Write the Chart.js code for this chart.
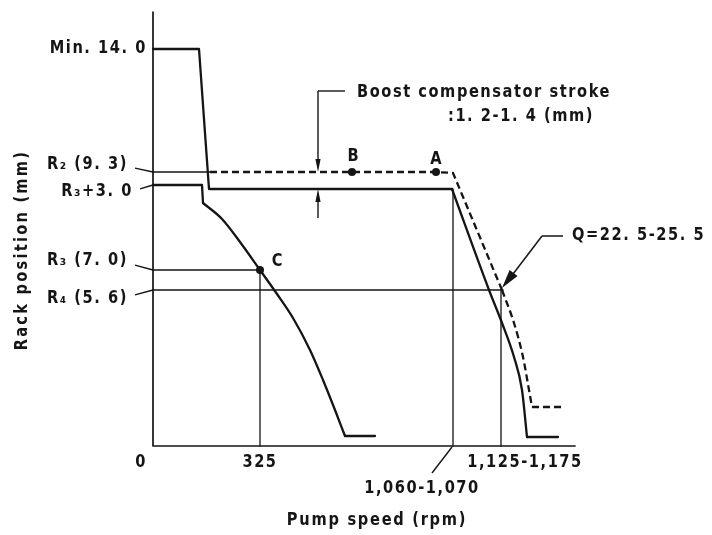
<!DOCTYPE html>
<html>
<head>
<meta charset="utf-8">
<script src="https://cdn.jsdelivr.net/npm/chart.js@4.4.0/dist/chart.umd.min.js"></script>
<style>
  html, body { margin: 0; padding: 0; background: #fff; }
  #wrap { width: 712px; height: 535px; }
</style>
</head>
<body>
<div id="wrap"><canvas id="rack" width="712" height="535"></canvas></div>
<script>
// Rack position vs pump speed - schematic, axes are in drawing units (not to scale)
const xMax = 422;
const yMax = 434;

// speed axis marks and their labels
const speedTicks = [0, 107, 300, 348];
const speedLabels = ["0", "325", "1,060-1,070", "1,125-1,175"];

// rack levels, bottom to top
const rackTicks = [156, 176, 261, 274, 397];
const rackLabels = ["R₄ (5. 6)", "R₃ (7. 0)", "R₃+3. 0", "R₂ (9. 3)", "Min. 14. 0"];

// full load curve (solid)
const fullX = [0, 46, 56, 299, 336, 349, 361, 369, 374, 405];
const fullY = [397, 397, 257, 257, 156, 123, 89, 56, 9, 9];

// boost compensated curve (dashed)
const boostX = [57, 283, 300, 349, 361, 370, 376, 379, 409];
const boostY = [274, 274, 273, 156, 123, 89, 56, 39, 39];

// low speed curve starting at R3+3.0
const lowX = [0, 49, 50, 69, 87, 107, 124, 140, 157, 170, 182, 192, 222];
const lowY = [261, 261, 243, 227, 204, 176, 152, 128, 96, 66, 36, 10, 10];

// marked points
const markNames = ["A", "B", "C"];
const markX = [283, 199, 107];
const markY = [274, 274, 176];

// boost stroke marker position and annotation texts
const boostMarkX = 165;
const boostText = ["Boost compensator stroke", ":1. 2-1. 4 (mm)"];
const qText = "Q=22. 5-25. 5";
const xTitle = "Pump speed (rpm)";
const yTitle = "Rack position (mm)";

const ink = "#151515";
const textFont = "bold 17px 'DejaVu Sans', sans-serif";
const squeeze = 0.86;

function pts(xs, ys, from, to) {
  const out = [];
  for (let i = from || 0; i <= (to == null ? xs.length - 1 : to); i++) {
    out.push({ x: xs[i], y: ys[i] });
  }
  return out;
}

function lineSet(data, width, extra) {
  return Object.assign({
    data: data,
    borderColor: ink,
    backgroundColor: ink,
    borderWidth: width,
    borderCapStyle: "round",
    borderJoinStyle: "round",
    pointRadius: 0,
    tension: 0,
    fill: false,
    clip: false,
    showLine: true
  }, extra || {});
}

// narrow, spaced lettering
function put(ctx, text, x, y, align, spacing) {
  ctx.save();
  ctx.font = textFont;
  ctx.fillStyle = ink;
  ctx.letterSpacing = (spacing == null ? 1.8 : spacing) + "px";
  ctx.textAlign = align || "left";
  ctx.textBaseline = "middle";
  ctx.translate(x, y);
  ctx.scale(squeeze, 1);
  ctx.fillText(text, 0, 0);
  ctx.restore();
}

function seg(ctx, x1, y1, x2, y2, w) {
  ctx.beginPath();
  ctx.lineWidth = w;
  ctx.moveTo(x1, y1);
  ctx.lineTo(x2, y2);
  ctx.stroke();
}

// filled arrow head, tip at (tx, ty), coming from (fx, fy)
function head(ctx, fx, fy, tx, ty, len, half) {
  const a = Math.atan2(ty - fy, tx - fx);
  const bx = tx - Math.cos(a) * len, by = ty - Math.sin(a) * len;
  ctx.beginPath();
  ctx.moveTo(tx, ty);
  ctx.lineTo(bx + Math.sin(a) * half, by - Math.cos(a) * half);
  ctx.lineTo(bx - Math.sin(a) * half, by + Math.cos(a) * half);
  ctx.closePath();
  ctx.fill();
}

// labels, leaders and arrows around the curves
const notes = {
  id: "notes",
  afterDatasetsDraw(chart) {
    const ctx = chart.ctx;
    const sx = chart.scales.x, sy = chart.scales.y;
    const X = v => sx.getPixelForValue(v);
    const Y = v => sy.getPixelForValue(v);
    const ax = X(0), ay = Y(0);
    ctx.save();
    ctx.strokeStyle = ink;
    ctx.fillStyle = ink;

    // rack level labels with short leaders
    const dy = [9, -9, 7, -7, 0];
    const gap = [25, 25, 20, 25, 6];
    rackTicks.forEach((v, i) => {
      const ty = Y(v) + dy[i];
      put(ctx, rackLabels[i], ax - gap[i], ty, "right");
      if (dy[i] !== 0) {
        seg(ctx, ax - gap[i] + 7, ty - dy[i] * 0.45, ax, Y(v), 1.4);
      }
    });

    // speed labels
    put(ctx, speedLabels[0], ax - 12, ay + 17, "center");
    put(ctx, speedLabels[1], X(speedTicks[1]), ay + 17, "center");
    const t2 = X(speedTicks[2]);
    seg(ctx, t2 - 1, ay + 1, t2 - 21, ay + 27, 1.4);
    put(ctx, speedLabels[2], t2 - 31, ay + 43, "center");
    put(ctx, speedLabels[3], X(speedTicks[3]) + 24, ay + 17, "center");

    // axis titles
    put(ctx, xTitle, (ax + X(xMax)) / 2 + 13, ay + 75, "center", 2);
    ctx.save();
    ctx.translate(ax - 130, Y(196));
    ctx.rotate(-Math.PI / 2);
    put(ctx, yTitle, 0, 0, "center", 2.6);
    ctx.restore();

    // point names
    const off = [[0, -12], [1, -15], [17, -8]];
    markNames.forEach((n, i) => {
      put(ctx, n, X(markX[i]) + off[i][0], Y(markY[i]) + off[i][1], "center", 0);
    });

    // boost compensator stroke marker
    const bx = X(boostMarkX);
    const top = Y(rackTicks[3]), low = Y(fullY[3]);
    const mTop = Y(355), mBot = Y(228);
    seg(ctx, bx, mTop, bx, top - 12, 1.4);
    seg(ctx, bx, mTop, X(192), mTop, 1.4);
    head(ctx, bx, top - 14, bx, top, 13, 2.6);
    seg(ctx, bx, low + 12, bx, mBot, 1.4);
    head(ctx, bx, low + 14, bx, low, 13, 2.6);
    put(ctx, boostText[0], X(192) + 12, mTop + 2, "left");
    put(ctx, boostText[1], X(192) + 103, mTop + 26, "left");

    // Q range pointer
    const qx = X(speedTicks[3]) + 1, qy = Y(rackTicks[0]) - 2;
    const ex = qx + 40, ey = qy - 52;
    seg(ctx, ex, ey, qx + 8, qy - 10, 1.5);
    head(ctx, ex, ey, qx, qy, 19, 5);
    seg(ctx, ex, ey, ex + 21, ey, 1.5);
    put(ctx, qText, ex + 30, ey, "left");

    ctx.restore();
  }
};

const smooth = { cubicInterpolationMode: "monotone" };
const dash = { borderDash: [7, 4], borderCapStyle: "butt" };
const datasets = [
  // axes
  lineSet([{ x: 0, y: yMax }, { x: 0, y: 0 }, { x: xMax, y: 0 }], 1.7),
  // level / speed reference lines
  lineSet(pts([0, boostX[0]], [rackTicks[3], rackTicks[3]]), 1.3),
  lineSet(pts([0, speedTicks[1], speedTicks[1]], [rackTicks[1], rackTicks[1], 0]), 1.3),
  lineSet(pts([0, speedTicks[3] + 2], [rackTicks[0], rackTicks[0]]), 1.3),
  lineSet(pts([speedTicks[3], speedTicks[3]], [rackTicks[0], 0]), 1.3),
  lineSet(pts([speedTicks[2], speedTicks[2]], [fullY[3], 0]), 1.3),
  // full load curve: steps, droop, tail
  lineSet(pts(fullX, fullY, 0, 3), 2.3),
  lineSet(pts(fullX, fullY, 3, 8), 2.3, smooth),
  lineSet(pts(fullX, fullY, 8, 9), 2.3),
  // boost curve
  lineSet(pts(boostX, boostY, 0, 3), 2.3, dash),
  lineSet(pts(boostX, boostY, 3, 7), 2.3, Object.assign({}, dash, smooth)),
  lineSet(pts(boostX, boostY, 7, 8), 2.3, dash),
  // low speed curve
  lineSet(pts(lowX, lowY, 0, 2), 2.3),
  lineSet(pts(lowX, lowY, 2, 11), 2.3, smooth),
  lineSet(pts(lowX, lowY, 11, 12), 2.3),
  // A, B, C
  lineSet(pts(markX, markY), 0, { showLine: false, pointRadius: 4, pointBorderWidth: 0, pointBackgroundColor: ink })
];

new Chart(document.getElementById("rack"), {
  type: "scatter",
  data: { datasets: datasets },
  options: {
    responsive: false,
    devicePixelRatio: 1,
    animation: false,
    layout: { padding: { left: 153, right: 137, top: 12, bottom: 89 } },
    scales: {
      x: { type: "linear", min: 0, max: xMax, display: false },
      y: { type: "linear", min: 0, max: yMax, display: false }
    },
    plugins: { legend: { display: false }, tooltip: { enabled: false } }
  },
  plugins: [notes]
});
</script>
</body>
</html>
